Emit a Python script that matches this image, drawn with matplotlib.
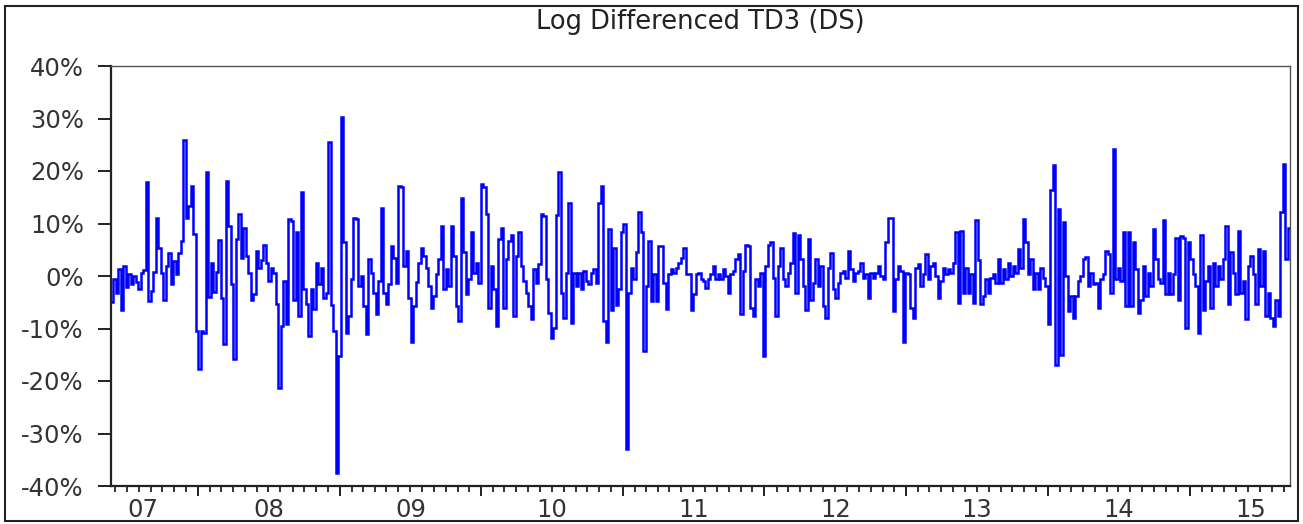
import matplotlib
matplotlib.use("Agg")
import matplotlib.pyplot as plt
import matplotlib.dates as mdates
from matplotlib.patches import Rectangle
from matplotlib.ticker import FuncFormatter
import pandas as pd

plt.rcParams["axes.unicode_minus"] = False
plt.rcParams["font.family"] = ["DejaVu Sans"]

# Log-differenced TD3 freight rate, in percent, split by roughly yearly stretches
ld_2007_08 = [-5.0, -0.5, -3.2, 1.3, -6.4, 2.0, -2.0, 0.3, -1.5, 0.0, -1.2, -2.4, 0.5, 1.2,
              17.9, -4.8, -2.8, 0.8, 11.1, 5.4, 0.5, -4.5, 2.0, 4.4, -1.6, 2.8, 0.3, 4.4,
              6.6, 25.9, 11.0, 13.4, 17.2, 8.0, -10.5, -17.8, -10.5, -10.8, 19.8, -4.0, 2.5,
              -3.0, 0.8, 6.9, -4.1, -12.9, 18.1, 9.5, -1.5, -15.8, 7.0, 11.9, 3.5, 9.2, 3.8,
              0.5, -4.5]
ld_2008_09 = [-3.5, 4.8, 1.5, 3.0, 6.0, 2.5, -1.0, 1.5, 0.5, -5.4, -21.3, -9.5, -1.0, -9.2,
              10.9, 10.5, -4.5, 8.3, -7.6, 16.0, -2.5, -5.4, -11.5, -2.5, -6.2, 2.4, -1.5,
              1.5, -4.1, -3.2, 25.6, -5.5, -10.5, -37.5, -15.3, 30.2, 6.5, -10.8, -7.6, -0.6,
              11.1, 10.8, -1.9, 0.0, -5.7, -11.1, 3.2, 0.5, -3.2, -7.3, -1.0, 13.0, -3.2,
              -5.4, -1.5, 5.7, 3.5, -1.3]
ld_2009_10 = [17.2, 17.0, 1.9, 4.8, -4.1, -12.6, -5.7, -1.2, 2.5, 5.4, 3.8, 1.6, -1.9, -6.0,
              -3.8, 0.3, 3.2, 9.5, -2.5, 1.3, -1.9, 9.5, 3.8, -5.7, -8.6, 14.9, 4.5, -3.5,
              -0.6, 8.4, 0.6, 2.5, -1.3, 17.5, 16.9, 11.8, -6.0, 1.9, -2.5, -9.5, 7.0, 9.2,
              -6.0, 3.2, 6.7, 7.8, -7.6, 3.8, 8.4, 1.9, -1.0, -3.2, -5.7, -8.1, 1.3, -1.3,
              2.2, 11.8]
ld_2010_11 = [11.5, -0.5, -7.0, -11.8, -9.9, 11.6, 19.8, -3.2, -8.0, 0.6, 14.0, -8.9, 0.6,
              -1.9, 0.6, -2.5, 1.0, -1.0, -1.6, 0.5, 1.3, -1.3, 14.0, 17.2, -8.6, -12.6, 8.9,
              -6.4, 5.4, -5.5, -2.5, 8.3, 9.9, -33.0, -3.2, 1.6, -0.6, 4.5, 12.1, 8.3, -14.3,
              -1.9, 6.7, -4.8, 0.3, -4.8, 5.7, 5.7, -1.3, -6.2, 0.3, 1.3, 0.6, 1.6, 2.5, 3.5,
              5.3, 0.3]
ld_2011_12 = [0.3, -6.4, -3.5, 0.3, 0.6, -0.6, -1.0, -2.2, -0.6, 0.3, 1.9, -0.6, 0.3, -0.6,
              1.3, 0.0, -3.2, 0.3, 1.0, 3.2, 4.1, -7.3, 1.0, 6.0, 5.7, -6.0, -7.6, -0.6, -1.9,
              0.6, -15.3, 1.9, 6.0, 6.4, -0.3, -7.6, 1.9, 5.4, -0.6, -1.9, 0.6, 2.5, 8.1,
              -3.2, 7.8, 3.2, -1.9, -6.4, 7.1, -4.5, -1.3, 3.2, -1.9, 1.9, -5.7, -8.0, 1.6,
              4.3]
ld_2012_13 = [-2.5, -4.1, -1.3, 0.6, 1.0, -0.3, 4.8, 1.3, -1.0, 0.6, 1.0, 2.5, -0.3, 0.3,
              -4.1, 0.6, -0.3, 0.6, 1.9, 0.0, -0.6, 6.5, 11.1, 11.0, -6.7, -0.6, 1.9, 1.0,
              -12.6, 0.6, 0.3, -6.0, -8.0, 1.6, 2.2, -1.9, 0.3, 4.1, -0.6, 1.9, 2.5, 0.0,
              -4.1, -1.0, 1.6, 0.3, 1.3, 0.6, 2.5, 8.4, -5.1, 8.6, -3.2, 1.6, -3.2, 0.3, -5.1,
              10.7]
ld_2013_14 = [3.0, -5.4, -3.8, -0.6, -3.2, -0.3, 0.3, -1.3, 3.3, -1.3, 1.3, -0.6, 2.5, 0.0,
              1.9, 0.6, 5.1, 1.6, 10.9, 6.4, 0.3, 3.2, -2.5, 0.6, -2.5, 1.6, -0.3, -1.9, -9.2,
              16.4, 21.1, -17.0, 12.8, -15.0, 10.2, 0.0, -6.7, -3.8, -8.0, -3.8, -1.0, 0.0,
              3.2, 3.6, -1.9, 0.6, -1.6, -1.3, -6.0, -0.6, 0.3, 4.8, 4.1, -3.2, 24.2, -0.6,
              1.6, -1.0]
ld_2014_15 = [8.3, -5.7, 8.4, -5.7, 6.5, 1.3, -7.0, -4.5, 1.9, -3.8, 0.6, -1.9, 8.9, 3.2,
              -0.6, -1.3, 10.7, -3.5, 0.6, -3.5, 0.3, 7.3, -4.5, 7.6, 7.3, -9.9, 6.4, 3.2, 0.3,
              -1.9, -10.8, 7.8, -6.4, -1.0, 1.9, -6.0, 2.5, -1.9, 1.9, -0.6, 3.2, 9.5, -5.4,
              4.5, 0.6, -3.5, 8.6, -3.2, -1.0, -8.1, 1.9, 3.8, 0.3, -5.4, 5.1, -1.9, 4.8, -7.6,
              -3.2, -8.0, -9.5, -4.5, -7.6, 12.1, 21.3, 3.2, 9.2]

year_labels = ["07", "08", "09", "10", "11", "12", "13", "14", "15"]
y_ticks = [-40, -30, -20, -10, 0, 10, 20, 30, 40]

series = (ld_2007_08 + ld_2008_09 + ld_2009_10 + ld_2010_11 + ld_2011_12
          + ld_2012_13 + ld_2013_14 + ld_2014_15)
dates = pd.date_range("2007-05-24", "2015-09-15", periods=len(series))

fig = plt.figure(figsize=(13.03, 5.24), dpi=100)
ax = fig.add_axes([111 / 1303, 38 / 524, (1290 - 111) / 1303, (486 - 66) / 524])

ax.plot(dates, series, color="#0000FF", lw=1.8, drawstyle="steps-mid",
        solid_joinstyle="miter")

ax.set_xlim(pd.Timestamp("2007-05-22"), pd.Timestamp("2015-09-17"))
ax.set_ylim(-40, 40)
ax.set_yticks(y_ticks)
ax.yaxis.set_major_formatter(FuncFormatter(lambda v, p: f"{v:.0f}%"))

ax.xaxis.set_major_locator(mdates.YearLocator())
ax.xaxis.set_minor_locator(mdates.MonthLocator())
ax.tick_params(axis="x", which="major", direction="out", length=7, width=1.4,
               labelbottom=False, color="#222222")
ax.tick_params(axis="x", which="minor", direction="out", length=4, width=1.3,
               color="#222222")
ax.tick_params(axis="y", which="major", direction="out", length=9.5, width=1.4,
               pad=10, labelsize=17.5, labelcolor="#333333", color="#222222")

for side in ("left", "bottom"):
    ax.spines[side].set_linewidth(1.6)
    ax.spines[side].set_color("#222222")
for side in ("top", "right"):
    ax.spines[side].set_linewidth(1.0)
    ax.spines[side].set_color("#555555")

# Year labels centred under each year's span
label_dates = ([pd.Timestamp("2007-08-13")]
               + [pd.Timestamp(f"20{y}-07-02") for y in year_labels[1:-1]]
               + [pd.Timestamp("2015-06-08")])
trans = ax.get_xaxis_transform()
for d, lab in zip(label_dates, year_labels):
    ax.text(d, -0.058, lab, transform=trans, ha="center", va="center",
            fontsize=17.5, color="#333333")

fig.text(700.5 / 1303, 1 - 22 / 524, "Log Differenced TD3 (DS)", ha="center", va="center",
         fontsize=18.5, color="#222222")

fig.patches.append(Rectangle((5 / 1303, 3 / 524), 1293 / 1303, 515 / 524,
                             transform=fig.transFigure, fill=False,
                             edgecolor="#222222", lw=1.5))

fig.savefig("out.png", dpi=100, facecolor="white")
